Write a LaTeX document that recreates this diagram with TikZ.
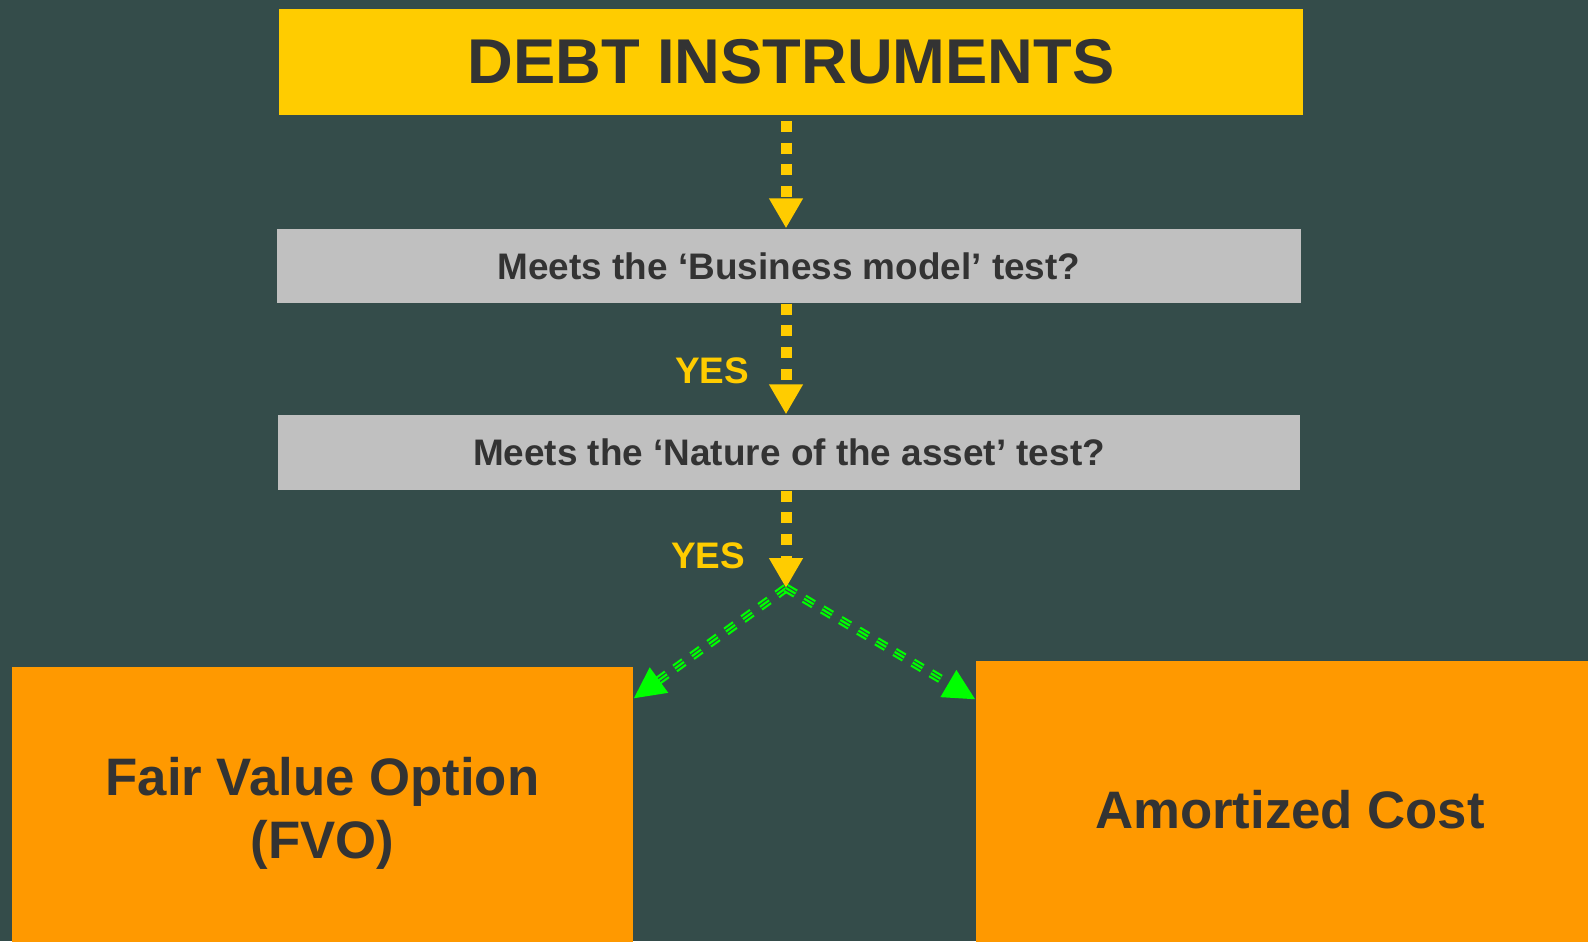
\documentclass[tikz,border=0pt]{standalone}
\usepackage{fontspec}
\setmainfont{Liberation Sans}
\usetikzlibrary{arrows.meta}

\begin{document}
\begin{tikzpicture}[x=0.01cm,y=-0.01cm,
    box/.style={inner sep=0pt, text=r51g51b51, align=center},
    yesarrow/.style={draw=r255g204b0, line width=0.11cm,
      dash pattern=on 0.11cm off 0.107cm,
      -{Triangle[width=0.32cm,length=0.30cm]}},
    yeslabel/.style={text=r255g204b0, font=\fontsize{10.5}{12}\selectfont\bfseries},
    tripleline/.style={draw=r0g255b0, line width=0.022cm,
      dash pattern=on 0.11cm off 0.1cm}]
  % Changing color 52 76 74
  \definecolor{r52g76b74}{RGB}{52,76,74}%
  % Changing color 255 204 0
  \definecolor{r255g204b0}{RGB}{255,204,0}%
  % Changing color 192 192 192
  \definecolor{r192g192b192}{RGB}{192,192,192}%
  % Changing color 255 153 0
  \definecolor{r255g153b0}{RGB}{255,153,0}%
  % Changing color 51 51 51
  \definecolor{r51g51b51}{RGB}{51,51,51}%
  % Changing color 0 255 0
  \definecolor{r0g255b0}{RGB}{0,255,0}%

  % Filling background
  \useasboundingbox (0,0) rectangle (1588,941);
  \fill[r52g76b74] (0,0) rectangle (1588,941);

  % Boxes
  \node[box, fill=r255g204b0, minimum width=10.23cm, minimum height=1.064cm,
    font=\fontsize{18}{22}\selectfont\bfseries] (debt) at (791,62) {DEBT INSTRUMENTS};
  \node[box, fill=r192g192b192, minimum width=10.23cm, minimum height=0.74cm,
    font=\fontsize{10.5}{12}\selectfont\bfseries] (bizmodel) at (789,266) {Meets the ‘Business model’ test?};
  \node[box, fill=r192g192b192, minimum width=10.21cm, minimum height=0.75cm,
    font=\fontsize{10.5}{12}\selectfont\bfseries] (nature) at (789,452.5) {Meets the ‘Nature of the asset’ test?};
  \node[box, fill=r255g153b0, minimum width=6.21cm, minimum height=2.92cm,
    font=\fontsize{15}{18}\selectfont\bfseries] (fvo) at (322.5,813) {Fair Value Option\\(FVO)};
  \node[box, fill=r255g153b0, minimum width=6.28cm, minimum height=2.98cm,
    font=\fontsize{15}{18}\selectfont\bfseries] (amortized) at (1290,810) {Amortized Cost};

  % Split point
  \coordinate (split) at (786,588);
  \coordinate (fvotip) at ([yshift=-0.32cm]fvo.north east);
  \coordinate (amtip) at ([yshift=-0.39cm]amortized.north west);

  % Drawing yellow arrows
  \draw[yesarrow] ([yshift=-0.05cm]debt.south -| split) -- (bizmodel.north -| split);
  \draw[yesarrow] (bizmodel.south -| split) -- (nature.north -| split);
  \draw[yesarrow] (nature.south -| split) -- (split);

  % Marking YES
  \node[yeslabel] (yes1) at (712,371) {YES};
  \node[yeslabel] (yes2) at (708,556) {YES};

  % Drawing green arrows
  \draw[tripleline, double=r52g76b74, double distance=0.046cm, shorten >=0.28cm] (split) -- (fvotip);
  \draw[tripleline, -{Triangle[width=0.31cm,length=0.31cm]}] (split) -- (fvotip);
  \draw[tripleline, double=r52g76b74, double distance=0.046cm, shorten >=0.28cm] (split) -- (amtip);
  \draw[tripleline, -{Triangle[width=0.31cm,length=0.31cm]}] (split) -- (amtip);
\end{tikzpicture}
\end{document}
